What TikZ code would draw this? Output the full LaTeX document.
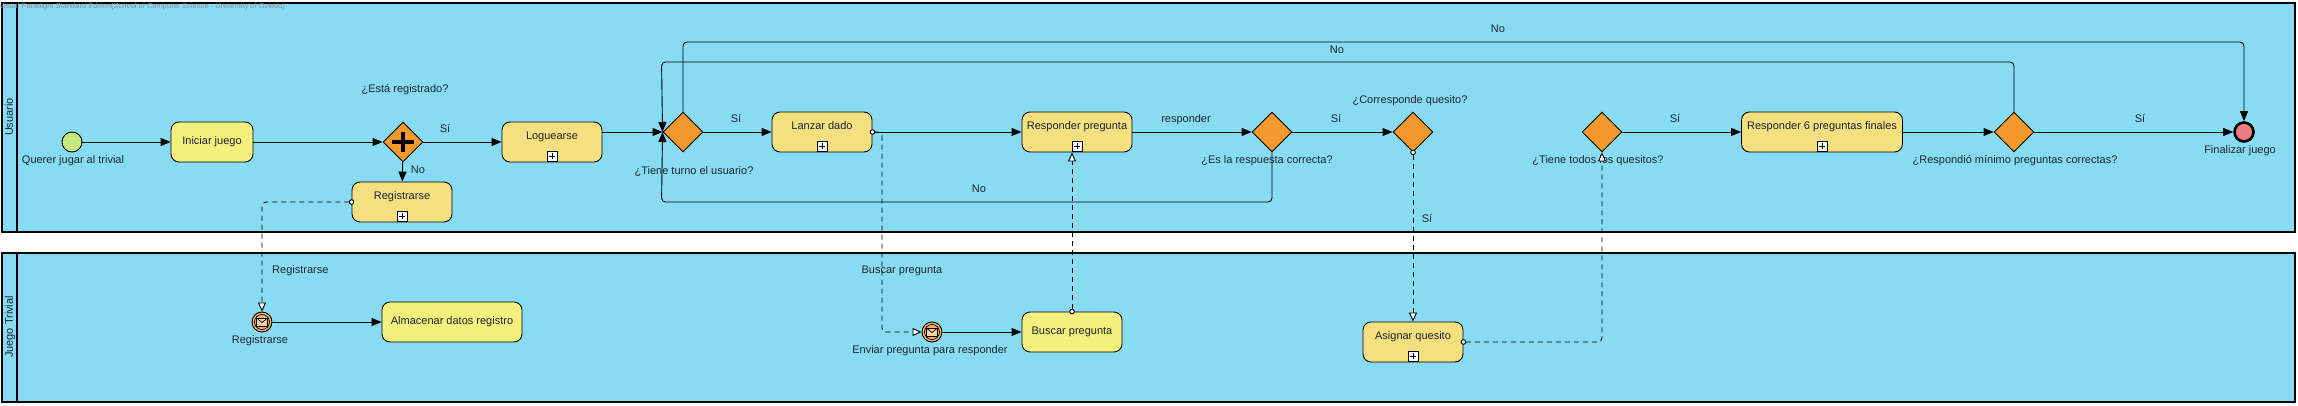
\documentclass[tikz,border=0pt]{standalone}
\usepackage{fontspec}
\setmainfont{Liberation Sans}
\usetikzlibrary{shapes.geometric,arrows.meta,calc}
\definecolor{poolblue}{HTML}{87DCF4}
\definecolor{taskyellow}{HTML}{F4F07E}
\definecolor{subyellow}{HTML}{F5E07F}
\definecolor{gworange}{HTML}{F7982F}
\definecolor{startgreen}{HTML}{C6EA7F}
\definecolor{endred}{HTML}{EE7B82}
\definecolor{msgorange}{HTML}{F6B36B}
\definecolor{txt}{HTML}{1E2430}
\definecolor{wmgray}{HTML}{8C8C8C}
\begin{document}
\begin{tikzpicture}[x=1pt,y=-1pt,
  font=\fontsize{11}{13}\selectfont,
  pool/.style={draw, line width=1.2pt, fill=poolblue},
  task/.style={draw, line width=0.9pt, rounded corners=8pt, fill=taskyellow, minimum height=40pt, inner sep=0, text=txt, text height=8pt, text depth=2.5pt},
  subtask/.style={task, fill=subyellow, text depth=12.5pt},
  submark/.style={draw, line width=0.8pt, fill=white, minimum size=10pt, inner sep=0,
    path picture={
      \draw[line width=0.8pt] ([yshift=-2pt]path picture bounding box.north) -- ([yshift=2pt]path picture bounding box.south);
      \draw[line width=0.8pt] ([xshift=2pt]path picture bounding box.west) -- ([xshift=-2pt]path picture bounding box.east);}},
  gw/.style={diamond, aspect=1, draw, line width=0.9pt, fill=gworange, minimum width=40pt, minimum height=40pt, inner sep=0},
  pargw/.style={gw, path picture={
      \draw[line width=4.5pt] ([xshift=-11pt]path picture bounding box.center) -- ([xshift=11pt]path picture bounding box.center);
      \draw[line width=4.5pt] ([yshift=-10pt]path picture bounding box.center) -- ([yshift=10pt]path picture bounding box.center);}},
  startev/.style={circle, draw, line width=0.9pt, fill=startgreen, minimum size=20pt, inner sep=0},
  endev/.style={circle, draw, line width=2.6pt, fill=endred, minimum size=19pt, inner sep=0},
  msgev/.style={circle, draw, line width=0.9pt, fill=msgorange, minimum size=20pt, inner sep=0,
    path picture={
      \draw[line width=0.7pt] (path picture bounding box.center) circle[radius=7.5pt];
      \draw[line width=0.7pt, fill=msgorange!60!white] ([shift={(-5.5pt,-4pt)}]path picture bounding box.center) rectangle ([shift={(5.5pt,4pt)}]path picture bounding box.center);
      \draw[line width=0.7pt] ([shift={(-5.5pt,4pt)}]path picture bounding box.center) -- ([shift={(0pt,-0.5pt)}]path picture bounding box.center) -- ([shift={(5.5pt,4pt)}]path picture bounding box.center);}},
  lbl/.style={inner sep=0, text=txt, text height=8pt, text depth=2.5pt},
  seq/.style={draw, line width=0.9pt, rounded corners=4pt, -{Triangle[length=10pt,width=8pt]}},
  msgf/.style={draw, line width=0.9pt, rounded corners=4pt, dash pattern=on 5pt off 4pt,
    {Circle[length=5.5pt,fill=white]}-{Triangle[length=9pt,width=8pt,fill=white]}, shorten <=-2.75pt},
  msgfn/.style={draw, line width=0.9pt, rounded corners=4pt, dash pattern=on 5pt off 4pt,
    -{Triangle[length=9pt,width=8pt,fill=white]}}
]
\useasboundingbox (0,0) rectangle (2298,406);

% pools
\draw[pool] (2,3) rectangle (2295,232);
\draw[line width=1.2pt] (17,3) -- (17,232);
\draw[pool] (2,253) rectangle (2295,402);
\draw[line width=1.2pt] (17,253) -- (17,402);
\node[lbl, rotate=90] (lane1) at (10,117) {Usuario};
\node[lbl, rotate=90] (lane2) at (10,327) {Juego Trivial};
\node[anchor=west, inner sep=0, text=wmgray, font=\fontsize{7.5}{9}\selectfont] (wm) at (-1,7) {Visual Paradigm Standard Edition(School of Computer Science - University of Oviedo)};

% lane Usuario
\node[startev] (start) at (72,142) {};
\node[lbl] (startl) at (73,161) {Querer jugar al trivial};
\node[task, minimum width=82pt] (ini) at (212,142) {Iniciar juego};
\node[pargw] (gw1) at (403,142) {};
\node[lbl] (gw1l) at (405,90) {¿Está registrado?};
\node[subtask, minimum width=100pt] (logu) at (552,142) {Loguearse};
\node[submark] (mlogu) at ([yshift=6pt]logu.south) {};
\node[subtask, minimum width=100pt] (reg) at (402,202) {Registrarse};
\node[submark] (mreg) at ([yshift=6pt]reg.south) {};
\node[gw] (gw2) at (683,132) {};
\node[lbl] (gw2l) at (694,172) {¿Tiene turno el usuario?};
\node[subtask, minimum width=100pt] (lanz) at (822,132) {Lanzar dado};
\node[submark] (mlanz) at ([yshift=6pt]lanz.south) {};
\node[subtask, minimum width=110pt] (resp) at (1077,132) {Responder pregunta};
\node[submark] (mresp) at ([yshift=6pt]resp.south) {};
\node[gw] (gw3) at (1272,132) {};
\node[lbl] (gw3l) at (1267,161) {¿Es la respuesta correcta?};
\node[gw] (gw4) at (1413,132) {};
\node[lbl] (gw4l) at (1410,101) {¿Corresponde quesito?};
\node[gw] (gw5) at (1602,132) {};
\node[lbl] (gw5l) at (1598,161) {¿Tiene todos los quesitos?};
\node[subtask, minimum width=161pt] (r6) at (1822,132) {Responder 6 preguntas finales};
\node[submark] (mr6) at ([yshift=6pt]r6.south) {};
\node[gw] (gw6) at (2014,132) {};
\node[lbl] (gw6l) at (2015,161) {¿Respondió mínimo preguntas correctas?};
\node[endev] (end) at (2244,132) {};
\node[lbl] (endl) at (2240,151) {Finalizar juego};

% lane Juego Trivial
\node[msgev] (ev1) at (262,322) {};
\node[lbl] (ev1l) at (260,341) {Registrarse};
\node[task, minimum width=140pt] (alm) at (452,322) {Almacenar datos registro};
\node[msgev] (ev2) at (932,332) {};
\node[lbl] (ev2l) at (930,351) {Enviar pregunta para responder};
\node[task, minimum width=100pt] (busc) at (1072,332) {Buscar pregunta};
\node[subtask, minimum width=100pt] (asig) at (1413,342) {Asignar quesito};
\node[submark] (masig) at ([yshift=6pt]asig.south) {};

% helper coordinates
\coordinate (topA) at (0,42);
\coordinate (topB) at (0,62);
\coordinate (botC) at (0,202);
\coordinate (mb) at (882,0);

% sequence flows
\draw[seq] (start) -- (ini);
\draw[seq] (ini) -- (gw1);
\draw[seq] (gw1) -- (logu);
\node[lbl] (s1) at (445,130) {Sí};
\draw[seq] (gw1) -- (reg);
\node[lbl] (n1) at (418,171) {No};
\draw[seq] (logu.east |- gw2.west) -- (gw2.west);
\draw[seq] (gw2) -- (lanz);
\node[lbl] (s2) at (736,120) {Sí};
\draw[seq] (lanz) -- (resp);
\draw[seq] (resp) -- (gw3);
\node[lbl] (l3) at (1186,120) {responder};
\draw[seq] (gw3) -- (gw4);
\node[lbl] (s3) at (1336,120) {Sí};
\draw[seq] (gw5) -- (r6);
\node[lbl] (s5) at (1675,120) {Sí};
\draw[seq] (r6) -- (gw6);
\draw[seq] (gw6) -- (end);
\node[lbl] (s6) at (2140,120) {Sí};
\draw[seq] (gw2.north) -- (gw2.north |- topA) -- (end.north |- topA) -- (end.north);
\node[lbl] (n2) at (1498,30) {No};
\draw[seq] (gw6.north) -- (gw6.north |- topB) -- ([xshift=-1pt]gw2.west |- topB) -- (gw2.west);
\node[lbl] (n3) at (1337,51) {No};
\draw[seq] (gw3.south) -- (gw3.south |- botC) -- ([xshift=-1pt]gw2.west |- botC) -- (gw2.west);
\node[lbl] (n4) at (979,190) {No};
\draw[seq] (ev1) -- (alm);
\draw[seq] (ev2) -- (busc);

% message flows
\draw[msgf] (reg.west) -- (reg.west -| ev1.north) -- (ev1.north);
\node[lbl, anchor=west] (m1) at (272,271) {Registrarse};
\draw[msgf] (lanz.east) -- (mb |- lanz.east) -- (mb |- ev2.west) -- (ev2.west);
\node[lbl] (m2) at (902,271) {Buscar pregunta};
\draw[msgf] (busc.north) -- (busc.north |- resp.south);
\draw[msgf] (gw4.south) -- (asig.north);
\node[lbl] (m3) at (1427,220) {Sí};
\draw[msgf] (asig.east) -- (gw5.south |- asig.east) -- (gw5.south);
\end{tikzpicture}
\end{document}
